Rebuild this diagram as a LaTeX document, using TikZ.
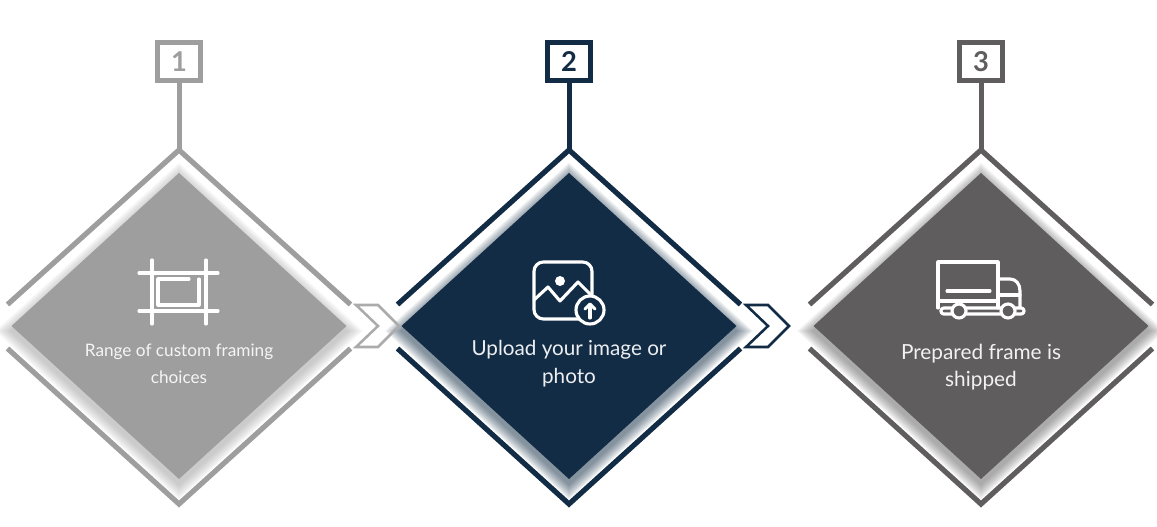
\documentclass[tikz,border=0pt]{standalone}
\usepackage{fontspec}
\setmainfont{Lato}
\definecolor{cgrey}{HTML}{9E9E9E}
\definecolor{cnavy}{HTML}{122C46}
\definecolor{cdark}{HTML}{5F5D5E}
\definecolor{cchev}{HTML}{ABABAB}
\tikzset{
  numbox/.style={draw=#1,line width=3.75pt,fill=white,minimum width=32.25pt,minimum height=28.5pt,inner sep=0pt,text=#1,font=\fontsize{20.5}{20}\selectfont\bfseries},
  stem/.style={draw=#1,line width=3.75pt},
  frameline/.style={draw=#1,line width=3.9pt,miter limit=10},
  chevron/.style={draw=#1,line width=1.9pt,line join=miter},
  icon/.style={draw=white,line width=2.35pt,line cap=round,line join=round},
  body/.style={text=#1,align=center,inner sep=0pt}
}
% column: centre x, colour
\newcommand{\stepdiamond}[3]{%
  \foreach \e in {1,...,12}{%
    \pgfmathsetmacro{\ex}{167+1.48*(13-\e)*0.95}
    \pgfmathsetmacro{\ey}{153+1.35*(13-\e)*0.95}
    \fill[#2,opacity=0.055] (#1-\ex,331) -- (#1,331-\ey) -- (#1+\ex,331) -- (#1,331+\ey) -- cycle;
  }
  \fill[#2] (#1-167.5,326) -- (#1,173) -- (#1+167.5,326) -- (#1,479) -- cycle;
  \coordinate (a#3) at (#1,150);
  \coordinate (b#3) at (#1,504);
  \coordinate (tl#3) at (#1-171.5,304.5);
  \coordinate (tr#3) at (#1+171.5,304.5);
  \coordinate (bl#3) at (#1-171.5,348.5);
  \coordinate (br#3) at (#1+171.5,348.5);
  \draw[frameline=#2] (tl#3) -- (a#3) -- (tr#3);
  \draw[frameline=#2] (bl#3) -- (b#3) -- (br#3);
}
\begin{document}
\begin{tikzpicture}[x=0.75pt,y=-0.75pt]
\path[use as bounding box,fill=white] (0,0) rectangle (1157,527);

\stepdiamond{179}{cgrey}{1}
\stepdiamond{569}{cnavy}{2}
\stepdiamond{981}{cdark}{3}

% number boxes and stems
\node[numbox=cgrey] (n1) at (179,61.5) {\raisebox{-0.7pt}{1}};
\node[numbox=cnavy] (n2) at (569,61.5) {\raisebox{-0.7pt}{2}};
\node[numbox=cdark] (n3) at (981,61.5) {\raisebox{-0.7pt}{3}};
\draw[stem=cgrey] (n1) -- (a1);
\draw[stem=cnavy] (n2) -- (a2);
\draw[stem=cdark] (n3) -- (a3);

% chevrons
\draw[chevron=cchev] (356,305) -- (378,305) -- (399,326) -- (378,347) -- (356,347) -- (378,326) -- cycle;
\draw[chevron=cnavy] (746,305) -- (768,305) -- (789,326) -- (768,347) -- (746,347) -- (768,326) -- cycle;

% labels
\node[body=white!90!cgrey,font=\fontsize{12.9}{20.25}\selectfont] (t1) at (179,363.5) {Range of custom framing\\choices};
\node[body=white!92!cnavy,font=\fontsize{15.5}{20.6}\selectfont] (t2) at (569,363.5) {Upload your image or\\photo};
\node[body=white!92!cdark,font=\fontsize{15.6}{20.6}\selectfont] (t3) at (981,367) {Prepared frame is\\shipped};

% icon 1: crop marks
\draw[icon] (139,273) -- (218,273);
\draw[icon] (139,311) -- (218,311);
\draw[icon] (152,260) -- (152,324);
\draw[icon] (206,260) -- (206,324);
\draw[icon] (189,279) -- (158,279) -- (158,305) -- (199,305) -- (199,279);

% icon 2: picture with upload badge
\draw[icon,rounded corners=7pt] (534,262) rectangle (592,319);
\fill[white] (560,281) circle[radius=5];
\draw[icon] (534,300) -- (548,287) -- (560,301) -- (578,282) -- (593,297);
\draw[icon,fill=cnavy] (590,310) circle[radius=14];
\draw[icon] (590,318) -- (590,305);
\draw[icon] (585,309) -- (590,304) -- (595,309);

% icon 3: truck
\draw[icon] (938,308) -- (938,262) -- (998,262) -- (998,308);
\draw[icon] (938,301) -- (998,301);
\draw[icon] (947,291) -- (990,291);
\draw[icon] (998,279) -- (1010,279) .. controls (1016,279) and (1020,284) .. (1020,291) -- (1020,307);
\draw[icon] (999,295) -- (1020,295);
\draw[icon,rounded corners=2pt] (941,308) -- (941,314) -- (1024,314) -- (1024,308) -- cycle;
\draw[icon,fill=cdark] (959,311) circle[radius=7];
\draw[icon,fill=cdark] (1008,311) circle[radius=7];
\end{tikzpicture}
\end{document}
